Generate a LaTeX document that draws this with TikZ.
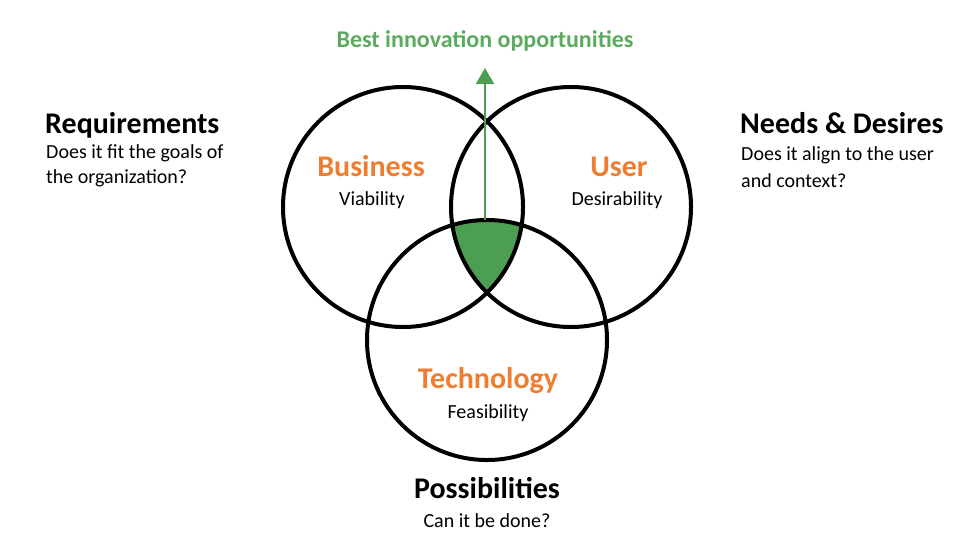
\documentclass[tikz,border=0pt]{standalone}
\usepackage{fontspec}
\setmainfont{Carlito}
\usetikzlibrary{arrows.meta}
\definecolor{vgreen}{HTML}{4C9E52}
\definecolor{tgreen}{HTML}{5BAA5E}
\definecolor{vorange}{HTML}{EE7D31}
\tikzset{
  venn/.style={circle, draw=black, line width=4pt, minimum size=240pt, inner sep=0pt, outer sep=0pt},
  areatitle/.style={text=vorange, font=\bfseries\fontsize{30}{36}\selectfont, inner sep=0pt, anchor=base},
  areasub/.style={font=\fontsize{20}{24}\selectfont, inner sep=0pt, anchor=base},
  sidehead/.style={font=\bfseries\fontsize{30}{36}\selectfont, inner sep=0pt, anchor=base west},
  sidetext/.style={font=\fontsize{20}{24}\selectfont, inner sep=0pt, anchor=base west},
  toplabel/.style={text=tgreen, font=\bfseries\fontsize{24}{29}\selectfont, inner sep=0pt, anchor=base},
}
\begin{document}
\begin{tikzpicture}[x=1pt, y=-1pt]
  \useasboundingbox (0,0) rectangle (974,547);

  % common area of the three circles
  \begin{scope}
    \clip (403,207) circle (120);
    \clip (571,207) circle (120);
    \fill[vgreen] (487,340) circle (120);
  \end{scope}

  % the three circles
  \node[venn] (biz)  at (403,207) {};
  \node[venn] (user) at (571,207) {};
  \node[venn] (tech) at (487,340) {};

  % circle labels
  \node[areatitle] (bizt)  at (371,176) {Business};
  \node[areasub]   (bizs)  at (372,205) {Viability};
  \node[areatitle] (usert) at (619,176) {User};
  \node[areasub]   (users) at (617,205) {Desirability};
  \node[areatitle] (techt) at (488,388) {Technology};
  \node[areasub]   (techs) at (488,418) {Feasibility};

  % side notes
  \node[sidehead] (req)   at (45,133)  {Requirements};
  \node[sidetext] (reqa)  at (46,158)  {Does it fit the goals of};
  \node[sidetext] (reqb)  at (46,183)  {the organization?};
  \node[sidehead] (need)  at (740,133) {Needs \& Desires};
  \node[sidetext] (needa) at (741,160) {Does it align to the user};
  \node[sidetext] (needb) at (741,187) {and context?};
  \node[sidehead, anchor=base] (poss) at (487,498) {Possibilities};
  \node[areasub] (posst) at (487,527) {Can it be done?};

  % arrow to the top label
  \node[toplabel] (best) at (485,47) {Best innovation opportunities};
  \coordinate (tip) at (485,68);
  \draw[vgreen, line width=2pt, -{Triangle[length=16pt, width=18pt]}] (tech.north -| tip) -- (tip);
\end{tikzpicture}
\end{document}
